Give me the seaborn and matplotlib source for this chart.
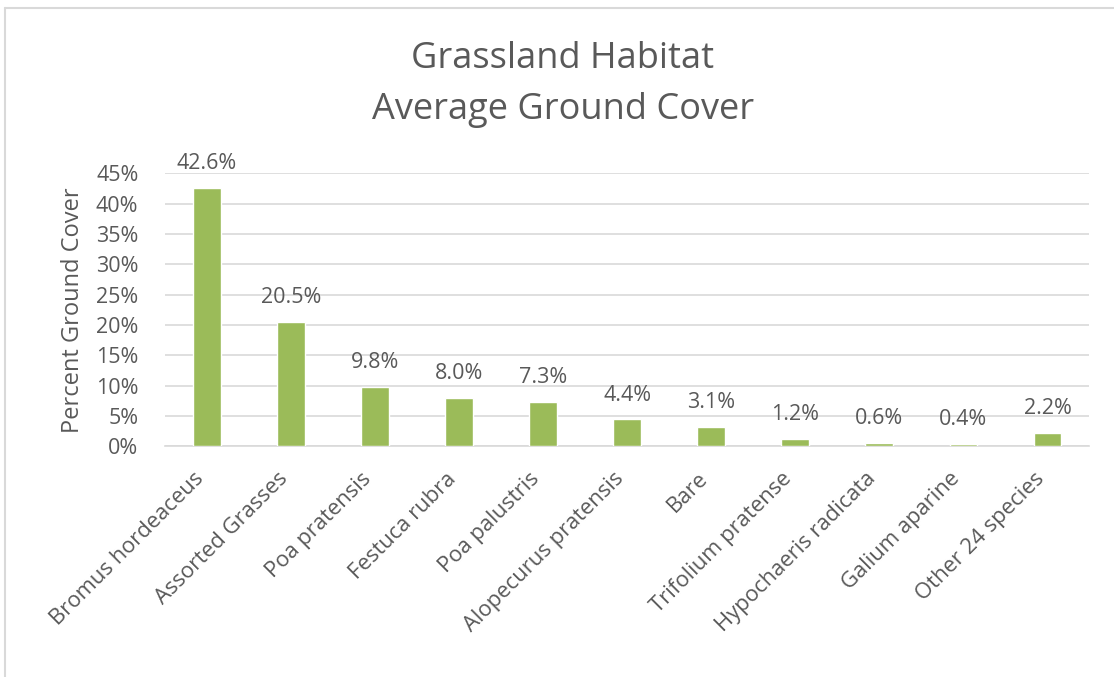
import matplotlib
matplotlib.use("Agg")
import matplotlib.pyplot as plt
import matplotlib.transforms as mtransforms
import seaborn as sns
import pandas as pd
from matplotlib.ticker import PercentFormatter
from matplotlib.lines import Line2D

# --- data ---
species = ['Bromus hordeaceus', 'Assorted Grasses', 'Poa pratensis', 'Festuca rubra',
           'Poa palustris', 'Alopecurus pratensis', 'Bare', 'Trifolium pratense',
           'Hypochaeris radicata', 'Galium aparine', 'Other 24 species']
cover = [42.6, 20.5, 9.8, 8.0, 7.3, 4.4, 3.1, 1.2, 0.6, 0.4, 2.2]
labels = ['42.6%', '20.5%', '9.8%', '8.0%', '7.3%', '4.4%', '3.1%', '1.2%', '0.6%', '0.4%', '2.2%']

df = pd.DataFrame({'Species': species, 'Cover': cover})

sns.set_style('white')
plt.rcParams['font.family'] = ['Open Sans', 'DejaVu Sans']

texto = '#595959'
grade = '#D9D9D9'

fig = plt.figure(figsize=(11.14, 6.77), dpi=100)
ax = fig.add_axes([0.148, 0.341, 0.83, 0.403])

sns.barplot(data=df, x='Species', y='Cover', color='#9BBB59', saturation=1,
            width=0.33, ax=ax, zorder=3)

# data labels above each bar
for i, (v, lab) in enumerate(zip(cover, labels)):
    ax.annotate(lab, (i, v), xytext=(0, 10), textcoords='offset points',
                ha='center', va='bottom', fontsize=15.5, color=texto)

ax.set_ylim(0, 45)
ax.set_xlim(-0.5, len(species) - 0.5)
ax.set_yticks(range(0, 46, 5))
ax.yaxis.set_major_formatter(PercentFormatter(decimals=0))
ax.grid(axis='y', color=grade, linewidth=1.2, zorder=0)
for s in ['top', 'right', 'left']:
    ax.spines[s].set_visible(False)
ax.spines['bottom'].set_color(grade)
ax.spines['bottom'].set_linewidth(1.2)
ax.tick_params(axis='y', length=0, colors=texto, labelsize=15.5, pad=19)
ax.tick_params(axis='x', length=0, colors=texto, labelsize=15.8, pad=16)
desloc = mtransforms.ScaledTranslation(-14 / 100, 0, fig.dpi_scale_trans)
for t in ax.get_xticklabels():
    t.set_rotation(45)
    t.set_ha('right')
    t.set_rotation_mode('anchor')
    t.set_transform(t.get_transform() + desloc)
ax.set_xlabel('')
ax.set_ylabel('Percent Ground Cover', fontsize=17, color=texto, labelpad=8)

fig.text(0.505, 0.913, 'Grassland Habitat', ha='center', va='center',
         fontsize=26, color=texto)
fig.text(0.505, 0.838, 'Average Ground Cover', ha='center', va='center',
         fontsize=26, color=texto)

# chart border (Excel frame)
fig.add_artist(Line2D([5 / 1114, 1], [1 - 8 / 677, 1 - 8 / 677], color=grade, lw=1.5))
fig.add_artist(Line2D([5 / 1114, 5 / 1114], [0, 1 - 8 / 677], color=grade, lw=1.5))

fig.savefig('out.png', dpi=100)
